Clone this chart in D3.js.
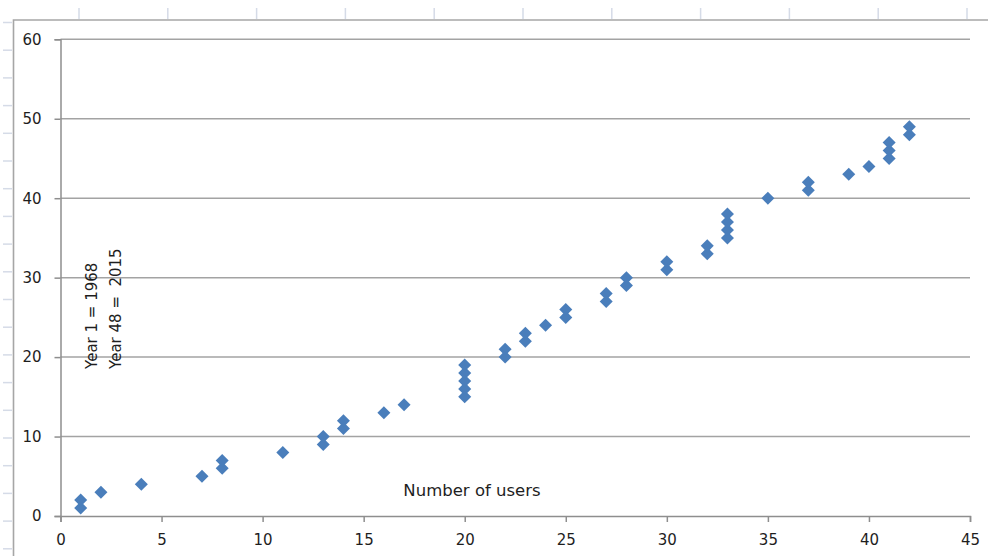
<!DOCTYPE html>
<html>
<head>
<meta charset="utf-8">
<script src="https://cdn.jsdelivr.net/npm/d3@7/dist/d3.min.js"></script>
<style>
  html, body { margin: 0; padding: 0; background: #fff; }
  svg { display: block; }
  text { font-family: "DejaVu Sans", Verdana, sans-serif; fill: #1e1e1e; }
</style>
</head>
<body>
<svg id="chart" width="988" height="556"></svg>
<script>
// Number of users (x) against year index (y)
const users = [1, 1, 2, 4, 7, 8, 8, 11, 13, 13, 14, 14, 16, 17,
  20, 20, 20, 20, 20, 22, 22, 23, 23, 24, 25, 25, 27, 27, 28, 28,
  30, 30, 32, 32, 33, 33, 33, 33, 35, 37, 37, 39, 40, 41, 41, 41, 42, 42];
const years = [1, 2, 3, 4, 5, 6, 7, 8, 9, 10, 11, 12, 13, 14,
  15, 16, 17, 18, 19, 20, 21, 22, 23, 24, 25, 26, 27, 28, 29, 30,
  31, 32, 33, 34, 35, 36, 37, 38, 40, 41, 42, 43, 44, 45, 46, 47, 48, 49];
const xTicks = [0, 5, 10, 15, 20, 25, 30, 35, 40, 45];
const yTicks = [0, 10, 20, 30, 40, 50, 60];
const xTitle = "Number of users";
const yTitleLines = ["Year 1 = 1968", "Year 48 =  2015"];

const svg = d3.select("#chart");
const W = 988, H = 556;

svg.append("rect").attr("width", W).attr("height", H).attr("fill", "#fff");

// worksheet cell borders peeking around the chart object
const sheet = svg.append("g").attr("stroke", "#d5dbe7").attr("stroke-width", 1.5);
sheet.selectAll("line.col")
  .data(d3.range(79, W, 88.8))
  .join("line")
  .attr("x1", d => d).attr("x2", d => d)
  .attr("y1", 8).attr("y2", 19);
sheet.selectAll("line.row")
  .data(d3.range(22.5, H, 27.7))
  .join("line")
  .attr("x1", 3).attr("x2", 12)
  .attr("y1", d => d).attr("y2", d => d);

// chart object border (left and top edges visible)
svg.append("path")
  .attr("d", `M13.5,${H} V20 H${W}`)
  .attr("fill", "none")
  .attr("stroke", "#a6a6a6")
  .attr("stroke-width", 1.6);

const x = d3.scaleLinear().domain([0, 45]).range([60.5, 970]);
const y = d3.scaleLinear().domain([0, 60]).range([516, 39.3]);

// horizontal gridlines
svg.append("g")
  .selectAll("line")
  .data(yTicks.filter(d => d > 0))
  .join("line")
  .attr("x1", x(0)).attr("x2", x(45))
  .attr("y1", d => y(d)).attr("y2", d => y(d))
  .attr("stroke", "#a3a3a3")
  .attr("stroke-width", 1.5);

// y axis
const yAxis = svg.append("g")
  .attr("transform", `translate(${x(0)},0)`)
  .call(d3.axisLeft(y).tickValues(yTicks).tickSize(6).tickPadding(13));
// x axis
const xAxis = svg.append("g")
  .attr("transform", `translate(0,${y(0)})`)
  .call(d3.axisBottom(x).tickValues(xTicks).tickSize(6).tickPadding(12));

[yAxis, xAxis].forEach(g => {
  g.select(".domain").attr("stroke", "#8e8e8e").attr("stroke-width", 1.5);
  g.selectAll(".tick line").attr("stroke", "#8e8e8e").attr("stroke-width", 1.5);
  g.selectAll(".tick text")
    .attr("font-family", "DejaVu Sans, Verdana, sans-serif")
    .attr("font-size", 15)
    .attr("fill", "#1e1e1e");
});

// diamond markers
const diamond = d3.symbol().type(d3.symbolDiamond2).size(108);
svg.append("g")
  .selectAll("path")
  .data(users.map((u, i) => ({u, yr: years[i]})))
  .join("path")
  .attr("d", diamond)
  .attr("transform", d => `translate(${x(d.u)},${y(d.yr)})`)
  .attr("fill", "#4a7ebb");

// x title placed inside the plot area
svg.append("text")
  .attr("x", 472).attr("y", 496)
  .attr("text-anchor", "middle")
  .attr("font-size", 16.5)
  .text(xTitle);

// rotated y title, two lines
svg.append("g")
  .selectAll("text")
  .data(yTitleLines)
  .join("text")
  .attr("transform", (d, i) => `translate(${97 + i * 24},369) rotate(-90)`)
  .attr("text-anchor", "start")
  .attr("font-size", 15)
  .attr("xml:space", "preserve")
  .style("white-space", "pre")
  .text(d => d);
</script>
</body>
</html>
